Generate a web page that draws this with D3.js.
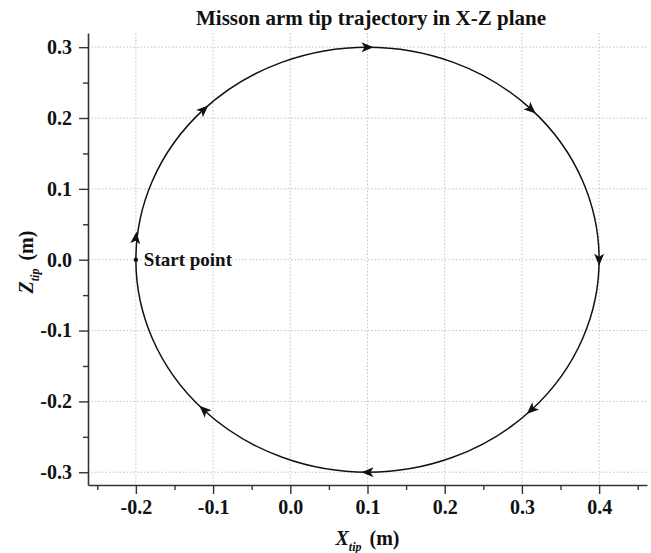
<!DOCTYPE html>
<html><head><meta charset="utf-8">
<script src="https://cdn.jsdelivr.net/npm/d3@7"></script>
<style>
html,body{margin:0;padding:0;background:#fff;}
svg text{font-family:"Liberation Serif","Times New Roman",serif;font-weight:bold;fill:#111;}
</style></head>
<body>
<svg id="chart" width="651" height="553"></svg>
<script>
// ---- data ----
const title = "Misson arm tip trajectory in X-Z plane";
const xTicks = [-0.2, -0.1, 0.0, 0.1, 0.2, 0.3, 0.4];
const yTicks = [-0.3, -0.2, -0.1, 0.0, 0.1, 0.2, 0.3];
const xMinor = [-0.25, -0.15, -0.05, 0.05, 0.15, 0.25, 0.35, 0.45];
const yMinor = [-0.25, -0.15, -0.05, 0.05, 0.15, 0.25];
const circleCenter = [0.1, 0.0];
const circleRadius = 0.3;
const startPoint = [-0.2, 0.0];
const startLabel = "Start point";
// arrowhead positions along the (clockwise) trajectory
const arrowX = [-0.2, -0.112, 0.1, 0.312, 0.4, 0.312, 0.1, -0.112];
const arrowZ = [0.031, 0.212, 0.3, 0.212, 0.0, -0.212, -0.3, -0.212];

// ---- layout ----
const svg = d3.select("#chart");
const pL = 88, pR = 647, pT = 33, pB = 485;
const x = d3.scaleLinear().domain([-0.262, 0.462]).range([pL, pR]);
const y = d3.scaleLinear().domain([-0.318, 0.32]).range([pB, pT]);
const fmt = d => d3.format(".1f")(d).replace("\u2212", "-");

// grid
const grid = svg.append("g").attr("stroke", "#c4c4c4").attr("stroke-width", 1)
  .attr("stroke-dasharray", "1.5,2");
grid.selectAll("line.v").data(xTicks).join("line").attr("class", "v")
  .attr("x1", d => x(d)).attr("x2", d => x(d)).attr("y1", pT).attr("y2", pB);
grid.selectAll("line.h").data(yTicks).join("line").attr("class", "h")
  .attr("y1", d => y(d)).attr("y2", d => y(d)).attr("x1", pL).attr("x2", pR);

// axes
const gx = svg.append("g").attr("transform", `translate(0,${pB})`)
  .call(d3.axisBottom(x).tickValues(xTicks).tickFormat(fmt).tickSize(9).tickSizeOuter(0).tickPadding(6));
const gxm = svg.append("g").attr("transform", `translate(0,${pB})`)
  .call(d3.axisBottom(x).tickValues(xMinor).tickFormat("").tickSize(5).tickSizeOuter(0));
const gy = svg.append("g").attr("transform", `translate(${pL},0)`)
  .call(d3.axisLeft(y).tickValues(yTicks).tickFormat(fmt).tickSize(9).tickSizeOuter(0).tickPadding(7));
const gym = svg.append("g").attr("transform", `translate(${pL},0)`)
  .call(d3.axisLeft(y).tickValues(yMinor).tickFormat("").tickSize(5).tickSizeOuter(0));
[gx, gxm, gy, gym].forEach(g => {
  g.select(".domain").attr("stroke", "#333").attr("stroke-width", 1.6);
  g.selectAll(".tick line").attr("stroke", "#333").attr("stroke-width", 1.4);
  g.selectAll(".tick text").style("font-size", "20px").style("font-family", "Liberation Serif")
    .style("font-weight", "bold").attr("fill", "#111");
});
gxm.select(".domain").remove();
gym.select(".domain").remove();

// trajectory
const cxp = x(circleCenter[0]), cyp = y(circleCenter[1]);
const rxp = x(circleCenter[0] + circleRadius) - cxp;
const ryp = cyp - y(circleCenter[1] + circleRadius);
svg.append("ellipse")
  .attr("cx", cxp).attr("cy", cyp).attr("rx", rxp).attr("ry", ryp)
  .attr("fill", "none").attr("stroke", "#111").attr("stroke-width", 1.5);

// arrowheads (direction: clockwise tangent, in pixel space)
arrowX.forEach((ax, i) => {
  const px = x(ax), py = y(arrowZ[i]);
  const t = Math.atan2(-(py - cyp) / ryp, (px - cxp) / rxp);
  const dx = rxp * Math.sin(t), dy = ryp * Math.cos(t);
  const ang = Math.atan2(dy, dx) * 180 / Math.PI;
  svg.append("path")
    .attr("d", "M6,0 L-6,-5 L-3,0 L-6,5 Z")
    .attr("fill", "#111")
    .attr("transform", `translate(${px},${py}) rotate(${ang})`);
});

// start point
svg.append("circle").attr("cx", x(startPoint[0])).attr("cy", y(startPoint[1]))
  .attr("r", 2.2).attr("fill", "#111");
svg.append("text").attr("x", x(startPoint[0]) + 8).attr("y", y(startPoint[1]) + 6)
  .style("font-size", "19px").text(startLabel);

// title
svg.append("text").attr("x", 371).attr("y", 25).attr("text-anchor", "middle")
  .style("font-size", "21px").text(title);

// x label
const xl = svg.append("text").attr("x", (pL + pR) / 2).attr("y", 545).attr("text-anchor", "middle")
  .style("font-size", "20px");
xl.append("tspan").style("font-style", "italic").text("X");
xl.append("tspan").style("font-style", "italic").style("font-size", "12px").attr("dy", 6).text("tip");
xl.append("tspan").attr("dy", -6).attr("dx", 8).text("(m)");

// y label
const yl = svg.append("text").attr("transform", `translate(33,${(pT + pB) / 2 + 3}) rotate(-90)`)
  .attr("text-anchor", "middle").style("font-size", "20px");
yl.append("tspan").style("font-style", "italic").text("Z");
yl.append("tspan").style("font-style", "italic").style("font-size", "12px").attr("dy", 6).text("tip");
yl.append("tspan").attr("dy", -6).attr("dx", 8).text("(m)");
</script>
</body></html>
